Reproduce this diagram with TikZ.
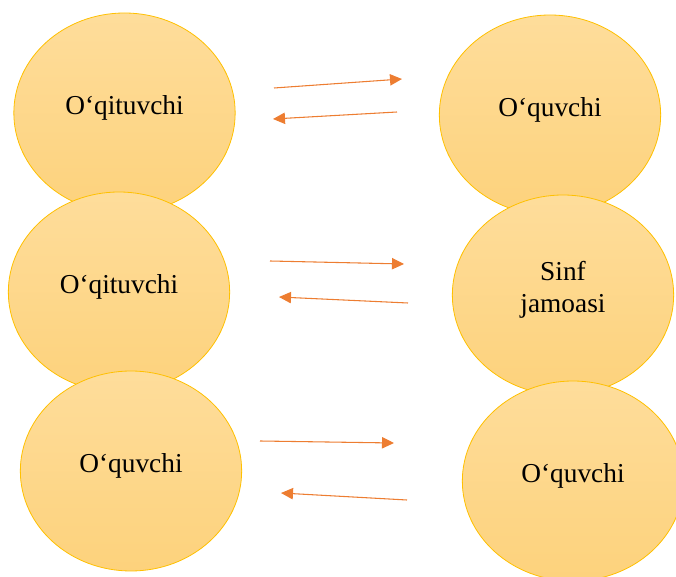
\documentclass[tikz,border=0pt]{standalone}
\usepackage{fontspec}
\setmainfont{Liberation Serif}
\usetikzlibrary{shapes.geometric,arrows.meta}
\definecolor{bubbletop}{RGB}{254,221,155}
\definecolor{bubblebot}{RGB}{253,210,124}
\definecolor{bubbleline}{RGB}{255,192,0}
\definecolor{arroworange}{RGB}{237,125,49}
\begin{document}
\begin{tikzpicture}[x=0.75pt, y=-0.75pt,
    role node/.style={ellipse, draw=bubbleline, line width=0.6pt, top color=bubbletop, bottom color=bubblebot, minimum width=166pt, minimum height=150pt, inner sep=0pt},
    role text/.style={anchor=base, align=center, font=\fontsize{20.5}{24}\selectfont},
    link/.style={draw=arroworange, line width=0.8pt, -{Triangle[length=9pt,width=8.5pt]}}]
        \useasboundingbox (0,0) rectangle (676,577);

          % top row
          \node[role node] (t1) at (124.5,113) {};
          \node[role node] (p1) at (550,115) {};
          % middle row
          \node[role node] (t2) at (119,292) {};
          \node[role node] (c2) at (563,295) {};
          % bottom row
          \node[role node] (p3) at (131,471) {};
          \node[role node] (p4) at (573,481) {};

          \node[role text] (t1lab) at ([yshift=-1pt]t1.center) {O‘qituvchi};
          \node[role text] (p1lab) at ([yshift=-1.5pt]p1.center) {O‘quvchi};
          \node[role text] (t2lab) at ([yshift=-1pt]t2.center) {O‘qituvchi};
          \node[role text] (c2lab) at ([yshift=-13.5pt]c2.center) {Sinf\\jamoasi};
          \node[role text] (p3lab) at ([yshift=-1pt]p3.center) {O‘quvchi};
          \node[role text] (p4lab) at ([yshift=-1pt]p4.center) {O‘quvchi};

          \coordinate (r1s) at (274,88);  \coordinate (r1e) at (402,79);
          \coordinate (l1s) at (397,112); \coordinate (l1e) at (273,119);
          \coordinate (r2s) at (270,261); \coordinate (r2e) at (404,264);
          \coordinate (l2s) at (408,303); \coordinate (l2e) at (279,297);
          \coordinate (r3s) at (260,441); \coordinate (r3e) at (394,443);
          \coordinate (l3s) at (407,500); \coordinate (l3e) at (281,493);

          \path (r1s) edge[link] (r1e)
                (l1s) edge[link] (l1e)
                (r2s) edge[link] (r2e)
                (l2s) edge[link] (l2e)
                (r3s) edge[link] (r3e)
                (l3s) edge[link] (l3e);

\end{tikzpicture}
\end{document}
